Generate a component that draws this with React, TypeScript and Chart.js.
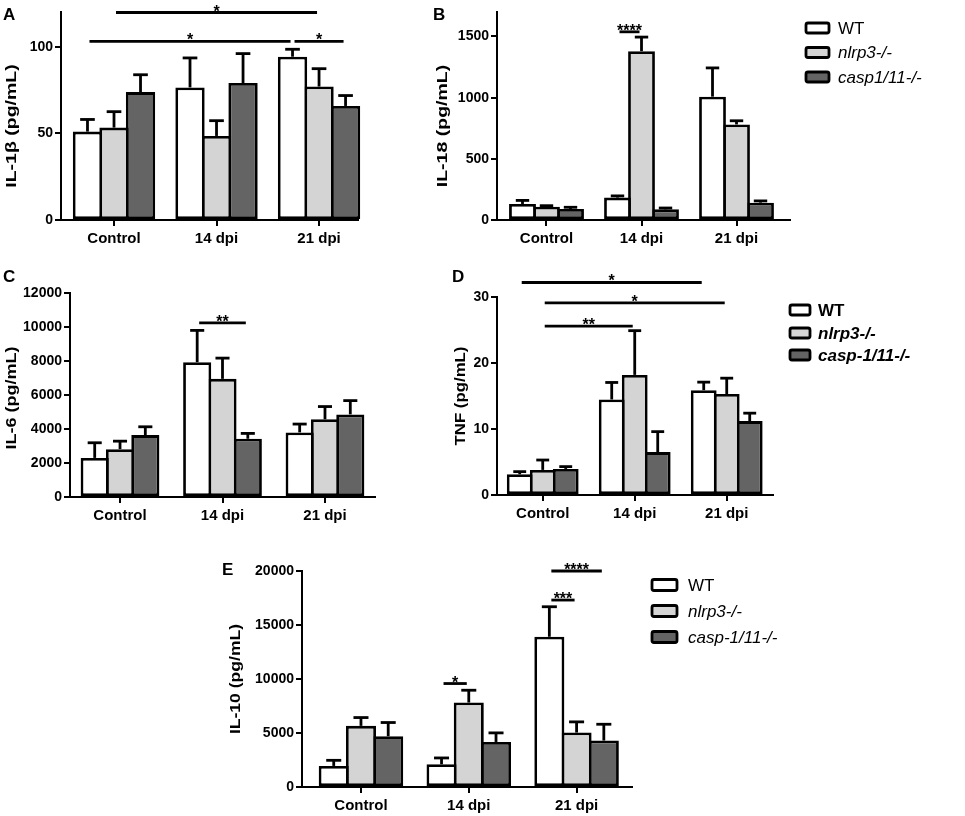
import React, { useEffect, useRef } from "react";
import { Chart, registerables } from "chart.js";

Chart.register(...registerables);
Chart.defaults.color = "#000";

const FONT = "'Liberation Sans', Arial, Helvetica, sans-serif";
const LW = 2.8;

// ---------- shared ----------
const categories = ["Control", "14 dpi", "21 dpi"];
const namesB = ["WT", "nlrp3-/-", "casp1/11-/-"];
const namesDE = ["WT", "nlrp3-/-", "casp-1/11-/-"];
const seriesFill = ["#ffffff", "#d4d4d4", "#646464"];

// ---------- A: IL-1β ----------
const il1bWT = [51, 76.5, 94.2];
const il1bWTsem = [7, 17, 4.3];
const il1bNlrp3 = [53.3, 48.5, 77];
const il1bNlrp3sem = [9.2, 8.8, 10.3];
const il1bCasp = [73.8, 79, 65.8];
const il1bCaspsem = [10, 17, 6];
const il1bTicks = [0, 50, 100];
const il1bMax = 120;
const il1bSig = [
  { from: [0, 1], to: [2, 1], y: 119.7, text: "*" },
  { from: [0, 0], to: [2, 0], y: 103, text: "*" },
  { from: [2, 0], to: [2, 2], y: 103, text: "*" },
];

// ---------- B: IL-18 ----------
const il18WT = [131, 183, 1008];
const il18WTsem = [29, 14, 235];
const il18Nlrp3 = [109, 1380, 781];
const il18Nlrp3sem = [8, 115, 30];
const il18Casp = [90, 87, 142];
const il18Caspsem = [14, 11, 14];
const il18Ticks = [0, 500, 1000, 1500];
const il18Max = 1700;
const il18Sig = [{ from: [1, 0], to: [1, 1], y: 1538, text: "****" }];

// ---------- C: IL-6 ----------
const il6WT = [2300, 7930, 3800];
const il6WTsem = [890, 1870, 490];
const il6Nlrp3 = [2815, 6950, 4570];
const il6Nlrp3sem = [470, 1220, 750];
const il6Casp = [3640, 3425, 4860];
const il6Caspsem = [490, 315, 810];
const il6Ticks = [0, 2000, 4000, 6000, 8000, 10000, 12000];
const il6Max = 12000;
const il6Sig = [{ from: [1, 0], to: [1, 2], y: 10240, text: "**" }];

// ---------- D: TNF ----------
const tnfWT = [3.14, 14.47, 15.88];
const tnfWTsem = [0.4, 2.58, 1.22];
const tnfNlrp3 = [3.8, 18.2, 15.3];
const tnfNlrp3sem = [1.5, 6.7, 2.4];
const tnfCasp = [3.95, 6.5, 11.2];
const tnfCaspsem = [0.35, 3.1, 1.2];
const tnfTicks = [0, 10, 20, 30];
const tnfMax = 30;
const tnfSig = [
  { from: [0, 0], to: [2, 0], y: 32.2, text: "*" },
  { from: [0, 1], to: [2, 1], y: 29.1, text: "*" },
  { from: [0, 1], to: [1, 1], y: 25.6, text: "**" },
];

// ---------- E: IL-10 ----------
const il10WT = [1950, 2100, 13910];
const il10WTsem = [520, 590, 2780];
const il10Nlrp3 = [5660, 7820, 5040];
const il10Nlrp3sem = [770, 1140, 990];
const il10Casp = [4700, 4170, 4300];
const il10Caspsem = [1270, 840, 1510];
const il10Ticks = [0, 5000, 10000, 15000, 20000];
const il10Max = 20000;
const il10Sig = [
  { from: [1, 0], to: [1, 1], y: 9580, text: "*" },
  { from: [2, 0], to: [2, 1], y: 17310, text: "***" },
  { from: [2, 0], to: [2, 2], y: 20000, text: "****" },
];

type Legend = { boxX: number; textX: number; rows: number[]; boxW: number; boxH: number; size: number; bold: boolean };
type PanelCfg = {
  canvas: { x: number; y: number; w: number; h: number };
  area: { l: number; t: number; r: number; b: number };
  xMin: number;
  xMax: number;
  catPct: number;
  yMax: number;
  ticks: number[];
  values: number[][];
  sems: number[][];
  names: string[];
  sig: { from: number[]; to: number[]; y: number; text: string }[];
  title: string;
  titleX: number;
  titleShift: number;
  titleStretch: number;
  letter: string;
  letterX: number;
  letterY: number;
  legend?: Legend;
};

const panels: PanelCfg[] = [
  {
    canvas: { x: 0, y: 0, w: 430, h: 255 },
    area: { l: 61, t: 12, r: 358, b: 220 },
    xMin: -0.517, xMax: 2.38, catPct: 0.776,
    yMax: il1bMax, ticks: il1bTicks,
    values: [il1bWT, il1bNlrp3, il1bCasp],
    sems: [il1bWTsem, il1bNlrp3sem, il1bCaspsem],
    names: namesB, sig: il1bSig,
    title: "IL-1β (pg/mL)", titleX: 12, titleShift: 10, titleStretch: 1.3,
    letter: "A", letterX: 3, letterY: 7,
  },
  {
    canvas: { x: 431, y: 0, w: 534, h: 255 },
    area: { l: 497, t: 12, r: 790, b: 220 },
    xMin: -0.521, xMax: 2.563, catPct: 0.758,
    yMax: il18Max, ticks: il18Ticks,
    values: [il18WT, il18Nlrp3, il18Casp],
    sems: [il18WTsem, il18Nlrp3sem, il18Caspsem],
    names: namesB, sig: il18Sig,
    title: "IL-18 (pg/mL)", titleX: 443, titleShift: 10, titleStretch: 1.3,
    letter: "B", letterX: 433, letterY: 7,
    legend: { boxX: 806, textX: 838, rows: [28, 52.5, 77], boxW: 23, boxH: 10, size: 17, bold: false },
  },
  {
    canvas: { x: 0, y: 255, w: 430, h: 270 },
    area: { l: 70, t: 293, r: 375, b: 497 },
    xMin: -0.488, xMax: 2.488, catPct: 0.741,
    yMax: il6Max, ticks: il6Ticks,
    values: [il6WT, il6Nlrp3, il6Casp],
    sems: [il6WTsem, il6Nlrp3sem, il6Caspsem],
    names: namesDE, sig: il6Sig,
    title: "IL-6 (pg/mL)", titleX: 12, titleShift: 3, titleStretch: 1.2,
    letter: "C", letterX: 3, letterY: 269,
  },
  {
    canvas: { x: 449, y: 255, w: 516, h: 270 },
    area: { l: 497, t: 297, r: 773, b: 495 },
    xMin: -0.497, xMax: 2.503, catPct: 0.75,
    yMax: tnfMax, ticks: tnfTicks,
    values: [tnfWT, tnfNlrp3, tnfCasp],
    sems: [tnfWTsem, tnfNlrp3sem, tnfCaspsem],
    names: namesDE, sig: tnfSig,
    title: "TNF (pg/mL)", titleX: 461, titleShift: 0, titleStretch: 1.12,
    letter: "D", letterX: 452, letterY: 269,
    legend: { boxX: 790, textX: 818, rows: [310, 333, 355], boxW: 20, boxH: 10, size: 17, bold: true },
  },
  {
    canvas: { x: 210, y: 530, w: 755, h: 286 },
    area: { l: 302, t: 571, r: 632, b: 787 },
    xMin: -0.547, xMax: 2.514, catPct: 0.758,
    yMax: il10Max, ticks: il10Ticks,
    values: [il10WT, il10Nlrp3, il10Casp],
    sems: [il10WTsem, il10Nlrp3sem, il10Caspsem],
    names: namesDE, sig: il10Sig,
    title: "IL-10 (pg/mL)", titleX: 236, titleShift: 0, titleStretch: 1.17,
    letter: "E", letterX: 222, letterY: 562,
    legend: { boxX: 652, textX: 688, rows: [585, 611, 637], boxW: 25, boxH: 11, size: 17, bold: false },
  },
];

const decor = {
  id: "decor",
  afterDatasetsDraw(chart: any, _args: any, opts: any) {
    const cfg: PanelCfg = opts.cfg;
    if (!cfg) return;
    const ox = cfg.canvas.x;
    const oy = cfg.canvas.y;
    const ctx: CanvasRenderingContext2D = chart.ctx;
    const ys = chart.scales.y;
    const area = chart.chartArea;
    ctx.save();
    ctx.strokeStyle = "#000";
    ctx.fillStyle = "#000";
    ctx.lineCap = "butt";

    // error bars (upper SEM)
    cfg.sems.forEach((semArr, di) => {
      const meta = chart.getDatasetMeta(di);
      meta.data.forEach((bar: any, i: number) => {
        const mean = cfg.values[di][i];
        const top = ys.getPixelForValue(mean + semArr[i]);
        const half = bar.width / 4;
        ctx.lineWidth = LW;
        ctx.beginPath();
        ctx.moveTo(bar.x, bar.y);
        ctx.lineTo(bar.x, top);
        ctx.stroke();
        ctx.beginPath();
        ctx.moveTo(bar.x - half, top);
        ctx.lineTo(bar.x + half, top);
        ctx.stroke();
      });
    });

    // significance lines
    cfg.sig.forEach((s) => {
      const x1 = chart.getDatasetMeta(s.from[1]).data[s.from[0]].x + 2;
      const x2 = chart.getDatasetMeta(s.to[1]).data[s.to[0]].x - 2;
      const ly = ys.getPixelForValue(s.y);
      ctx.lineWidth = LW;
      ctx.beginPath();
      ctx.moveTo(x1, ly);
      ctx.lineTo(x2, ly);
      ctx.stroke();
      ctx.font = `bold 16px ${FONT}`;
      ctx.textAlign = "center";
      ctx.textBaseline = "alphabetic";
      ctx.fillText(s.text, (x1 + x2) / 2, ly + 4);
    });

    // y title
    ctx.save();
    ctx.translate(cfg.titleX - ox, (area.top + area.bottom) / 2 + cfg.titleShift);
    ctx.rotate(-Math.PI / 2);
    ctx.scale(cfg.titleStretch, 1);
    ctx.font = `bold 15px ${FONT}`;
    ctx.textAlign = "center";
    ctx.textBaseline = "middle";
    ctx.fillText(cfg.title, 0, 0);
    ctx.restore();

    // panel letter
    ctx.font = `bold 17px ${FONT}`;
    ctx.textAlign = "left";
    ctx.textBaseline = "top";
    ctx.fillText(cfg.letter, cfg.letterX - ox, cfg.letterY - oy);

    // legend
    const lg = cfg.legend;
    if (lg) {
      cfg.names.forEach((name, di) => {
        const cy = lg.rows[di] - oy;
        const bx = lg.boxX - ox;
        ctx.beginPath();
        (ctx as any).roundRect(bx, cy - lg.boxH / 2, lg.boxW, lg.boxH, 2);
        ctx.fillStyle = seriesFill[di];
        ctx.fill();
        ctx.lineWidth = LW;
        ctx.strokeStyle = "#000";
        ctx.stroke();
        ctx.fillStyle = "#000";
        ctx.font = `${di > 0 ? "italic " : ""}${lg.bold ? "bold " : ""}${lg.size}px ${FONT}`;
        ctx.textAlign = "left";
        ctx.textBaseline = "middle";
        ctx.fillText(name, lg.textX - ox, cy + 1);
      });
    }
    ctx.restore();
  },
};

function Panel({ cfg }: { cfg: PanelCfg }) {
  const ref = useRef<HTMLCanvasElement>(null);
  useEffect(() => {
    const c = cfg;
    const chunk = ((c.area.r - c.area.l) / (c.xMax - c.xMin)) * c.catPct / 3;
    const barPct = 1 + LW / chunk;
    const chart = new Chart(ref.current as HTMLCanvasElement, {
      type: "bar",
      data: {
        datasets: c.values.map((vals, di) => ({
          label: c.names[di],
          data: vals.map((v, i) => ({ x: i, y: v })),
          backgroundColor: seriesFill[di],
          borderColor: "#000",
          borderWidth: LW,
          borderSkipped: false,
          categoryPercentage: c.catPct,
          barPercentage: barPct,
          clip: false,
        })),
      } as any,
      options: {
        responsive: false,
        animation: false,
        events: [],
        layout: {
          padding: {
            left: 0,
            top: c.area.t - c.canvas.y,
            right: c.canvas.x + c.canvas.w - c.area.r,
            bottom: 0,
          },
        },
        plugins: {
          legend: { display: false },
          tooltip: { enabled: false },
          decor: { cfg: c },
        } as any,
        scales: {
          x: {
            type: "linear",
            min: c.xMin,
            max: c.xMax,
            offset: false,
            afterBuildTicks: (scale: any) => {
              scale.ticks = categories.map((_, i) => ({ value: i }));
            },
            afterFit: (scale: any) => {
              scale.height = c.canvas.y + c.canvas.h - c.area.b;
            },
            border: { display: true, color: "#000", width: 2 },
            grid: { display: true, offset: false, drawOnChartArea: false, drawTicks: true, tickLength: 6, color: "#000", lineWidth: 2 },
            ticks: {
              autoSkip: false,
              maxRotation: 0,
              padding: 4,
              color: "#000",
              font: { family: FONT, size: 15, weight: "bold" },
              callback: (_v: any, i: number) => categories[i],
            },
          },
          y: {
            type: "linear",
            min: 0,
            max: c.yMax,
            afterBuildTicks: (scale: any) => {
              scale.ticks = c.ticks.map((v) => ({ value: v }));
            },
            afterFit: (scale: any) => {
              scale.width = c.area.l - c.canvas.x;
            },
            border: { display: true, color: "#000", width: 2 },
            grid: { display: true, drawOnChartArea: false, drawTicks: true, tickLength: 6, color: "#000", lineWidth: 2 },
            ticks: {
              padding: 2,
              color: "#000",
              font: { family: FONT, size: 14, weight: "bold" },
              callback: (v: any) => String(v),
            },
          },
        } as any,
      },
      plugins: [decor as any],
    });
    return () => chart.destroy();
  }, [cfg]);
  return (
    <canvas
      ref={ref}
      width={cfg.canvas.w}
      height={cfg.canvas.h}
      style={{ position: "absolute", left: cfg.canvas.x, top: cfg.canvas.y, width: cfg.canvas.w, height: cfg.canvas.h }}
    />
  );
}

export default function App() {
  return (
    <div style={{ position: "absolute", left: 0, top: 0, width: 965, height: 816, background: "#fff", overflow: "hidden" }}>
      {panels.map((p) => (
        <Panel key={p.letter} cfg={p} />
      ))}
    </div>
  );
}
